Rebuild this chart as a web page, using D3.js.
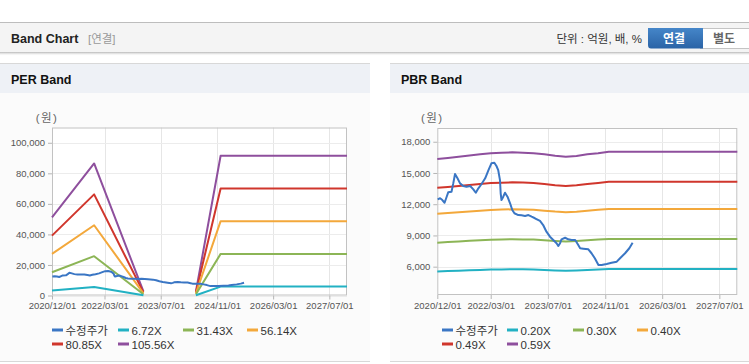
<!DOCTYPE html>
<html><head><meta charset="utf-8">
<script src="https://cdn.jsdelivr.net/npm/d3@7"></script>
<style>
html,body{margin:0;padding:0;background:#fff;}
svg{display:block;font-family:"Liberation Sans","Noto Sans CJK KR",sans-serif;}
</style></head><body>
<svg id="c" width="749" height="364"></svg>
<script>
// ---------- data ----------
const xTickDates = ["2020-12-01","2022-03-01","2023-07-01","2024-11-01","2026-03-01","2027-07-01"];
const xDomain = ["2020-12-01","2027-12-01"];
const perTicks = [0,20000,40000,60000,80000,100000];
const perDomain = [0,110000];
const pbrTicks = [6000,9000,12000,15000,18000];
const pbrDomain = [3280,19320];

const priceDates = ["2020-12-04","2020-12-25","2021-01-13","2021-02-01","2021-02-19","2021-03-04","2021-04-01","2021-04-16","2021-05-01","2021-05-22","2021-06-13","2021-07-10","2021-08-07","2021-09-07","2021-10-04","2021-10-25","2021-11-16","2021-12-13","2022-01-13","2022-02-10","2022-03-07","2022-04-01","2022-04-19","2022-05-04","2022-05-19","2022-05-25","2022-06-01","2022-06-16","2022-07-01","2022-07-22","2022-08-13","2022-09-01","2022-09-19","2022-10-22","2022-11-19","2022-12-19","2023-01-16","2023-02-13","2023-03-13","2023-04-25","2023-05-22","2023-06-19","2023-07-19","2023-08-16","2023-09-13","2023-09-28","2023-10-13","2023-10-25","2023-11-25","2023-12-22","2024-01-19","2024-02-19","2024-03-16","2024-04-01","2024-04-28","2024-06-10","2024-07-07","2024-08-04","2024-09-04","2024-10-01","2024-11-13","2024-12-25","2025-02-07","2025-03-07","2025-04-19","2025-05-25","2025-06-22"];
const priceValues = [12470,12570,12400,12140,12720,13140,13200,14000,14900,14490,14000,13750,13680,13750,13430,13100,13530,13940,14490,15280,15930,15980,15670,15280,14320,13050,12400,12720,13100,12720,12090,11440,11130,10960,10930,10870,10960,10800,10650,10390,10000,9360,8880,8560,8250,7990,8250,8630,8780,8630,8560,8560,8080,7770,7730,7670,7290,6810,6160,6160,6260,6380,6480,6810,7290,7770,8300];

const perDates = ["2020-12-01","2021-12-01","2023-02-01","2023-10-01","2024-05-01","2024-12-01","2027-12-01"];
const per672  = [3260, 5500, 170, null, 170, 5830, 5830];
const per3143 = [15240,25740,790, null, 790, 27250,27250];
const per5614 = [27230,45980,1400,null,1400,48670,48670];
const per8085 = [39210,66220,2020,null,2020,70100,70100];
const per10556= [51200,86450,2640,null,2640,91520,91520];

const pbrDates = ["2020-12-01","2021-03-01","2021-06-01","2021-09-01","2021-12-01","2022-03-01","2022-06-01","2022-09-01","2022-12-01","2023-03-01","2023-06-01","2023-09-01","2023-12-01","2024-03-01","2024-06-01","2024-09-01","2024-12-01","2027-12-01"];
const pbr020 = [5540,5580,5610,5650,5690,5730,5740,5760,5750,5730,5690,5640,5610,5640,5690,5730,5780,5780];
const pbr030 = [8310,8360,8420,8480,8540,8590,8620,8630,8620,8600,8540,8470,8420,8460,8540,8600,8660,8660];
const pbr040 = [11080,11150,11230,11300,11380,11450,11490,11510,11490,11460,11380,11290,11230,11280,11380,11460,11550,11550];
const pbr049 = [13570,13660,13750,13850,13940,14030,14070,14100,14080,14040,13940,13830,13750,13820,13940,14040,14150,14150];
const pbr059 = [16340,16450,16560,16670,16790,16890,16940,16980,16950,16900,16790,16650,16560,16640,16790,16900,17040,17040];

const perLegend = ["수정주가","6.72X","31.43X","56.14X","80.85X","105.56X"];
const pbrLegend = ["수정주가","0.20X","0.30X","0.40X","0.49X","0.59X"];
const colors = ["#3a76c4","#22b1c3","#8cb556","#f3a83b","#d0362c","#8e4f9d"];

// ---------- drawing ----------
const parse = d3.timeParse("%Y-%m-%d");
const svg = d3.select("#c");

// top header bar
svg.append("rect").attr("x",0).attr("y",22).attr("width",749).attr("height",31).attr("fill","#f4f4f4");
svg.append("line").attr("x1",0).attr("x2",749).attr("y1",22.5).attr("y2",22.5).attr("stroke","#bdbdbd");
const defs = svg.append("defs");
const g1 = defs.append("linearGradient").attr("id","shadow").attr("x1",0).attr("x2",0).attr("y1",0).attr("y2",1);
g1.append("stop").attr("offset","0").attr("stop-color","#b8b8b8");
g1.append("stop").attr("offset","1").attr("stop-color","#ffffff").attr("stop-opacity",0);
svg.append("rect").attr("x",0).attr("y",52).attr("width",749).attr("height",4).attr("fill","url(#shadow)");
svg.append("text").attr("x",11).attr("y",43).attr("font-size",12.5).attr("font-weight","bold").attr("fill","#222").text("Band Chart");
svg.append("text").attr("x",88).attr("y",43).attr("font-size",11.5).attr("fill","#999").text("[연결]");
svg.append("text").attr("x",642).attr("y",43).attr("text-anchor","end").attr("font-size",11.5).attr("fill","#333").text("단위 : 억원, 배, %");
const g2 = defs.append("linearGradient").attr("id","btn").attr("x1",0).attr("x2",0).attr("y1",0).attr("y2",1);
g2.append("stop").attr("offset","0").attr("stop-color","#4586c9");
g2.append("stop").attr("offset","1").attr("stop-color","#2a63a6");
svg.append("rect").attr("x",700.5).attr("y",28.5).attr("width",52).attr("height",20).attr("fill","#fff").attr("stroke","#c4c4c4");
svg.append("path").attr("d","M703,28 H648 Q648,28 648,31 V45 Q648,48.5 651,48.5 H703 Z").attr("fill","url(#btn)");
svg.append("text").attr("x",674).attr("y",43).attr("text-anchor","middle").attr("font-size",12).attr("font-weight","bold").attr("fill","#fff").text("연결");
svg.append("text").attr("x",724).attr("y",43).attr("text-anchor","middle").attr("font-size",12).attr("font-weight","bold").attr("fill","#666").text("별도");

function panel(px, pw, title) {
  svg.append("rect").attr("x",px).attr("y",64).attr("width",pw).attr("height",297).attr("fill","#fbfbfb");
  svg.append("rect").attr("x",px).attr("y",64).attr("width",pw).attr("height",29).attr("fill","#eef1f6");
  svg.append("line").attr("x1",px).attr("x2",px+pw).attr("y1",63.5).attr("y2",63.5).attr("stroke","#d8d8d8");
  svg.append("line").attr("x1",px).attr("x2",px+pw).attr("y1",361.5).attr("y2",361.5).attr("stroke","#d8d8d8");
  svg.append("text").attr("x",px+11).attr("y",84).attr("font-size",12.5).attr("font-weight","bold").attr("fill","#111").text(title);
}
panel(0,370,"PER Band");
panel(390,359,"PBR Band");

function chart(o) {
  const x = d3.scaleTime().domain(xDomain.map(parse)).range([o.x0, o.x1]);
  const y = d3.scaleLinear().domain(o.domain).range([o.yb, o.yt]);
  const g = svg.append("g");
  g.append("rect").attr("x",o.x0).attr("y",o.yt).attr("width",o.x1-o.x0).attr("height",o.yb-o.yt).attr("fill","#fff");
  // grid
  g.selectAll(".vg").data(xTickDates.slice(1).map(parse)).enter().append("line")
    .attr("x1",d=>Math.round(x(d))+0.5).attr("x2",d=>Math.round(x(d))+0.5).attr("y1",o.yt).attr("y2",o.yb).attr("stroke","#e6e6e6");
  g.selectAll(".hg").data(o.ticks).enter().append("line")
    .attr("x1",o.x0).attr("x2",o.x1).attr("y1",d=>Math.round(y(d))+0.5).attr("y2",d=>Math.round(y(d))+0.5).attr("stroke","#ececec");
  // axes
  const ax = g.append("g").attr("transform",`translate(0,${o.yb})`)
    .call(d3.axisBottom(x).tickValues(xTickDates.map(parse)).tickFormat(d3.timeFormat("%Y/%m/%d")).tickSize(4).tickSizeOuter(0));
  const ay = g.append("g").attr("transform",`translate(${o.x0},0)`)
    .call(d3.axisLeft(y).tickValues(o.ticks).tickFormat(d3.format(",")).tickSize(4).tickSizeOuter(0));
  [ax,ay].forEach(a=>{
    a.select(".domain").remove();
    a.selectAll("line").attr("stroke","#b5b5b5");
    a.selectAll("text").attr("fill","#555").attr("font-size",9.5).attr("font-family","Liberation Sans, sans-serif");
  });
  // border
  g.append("rect").attr("x",o.x0+0.5).attr("y",o.yt+0.5).attr("width",o.x1-o.x0-1).attr("height",o.yb-o.yt-1)
    .attr("fill","none").attr("stroke","#c2c2c2");
  g.append("text").attr("x",o.x0-5).attr("y",122).attr("text-anchor","middle").attr("font-size",11.5).attr("letter-spacing",1.5).attr("fill","#666").text("(원)");
  // lines
  const line = d3.line().defined(d=>d[1]!=null).x(d=>x(d[0])).y(d=>y(d[1]));
  const plot = g.append("g");
  o.series.forEach((s,i)=>{
    plot.append("path").datum(s.dates.map((d,k)=>[parse(d), s.values[k]]))
      .attr("d",line).attr("fill","none").attr("stroke",s.color).attr("stroke-width",2).attr("stroke-linejoin","round");
  });
  // legend
  const lx = o.legendX;
  o.legend.forEach((t,i)=>{
    const row = i<4?0:1, col = i<4?i:i-4;
    const xx = lx[col], yy = row===0?330:344;
    g.append("line").attr("x1",xx).attr("x2",xx+11).attr("y1",yy).attr("y2",yy).attr("stroke",colors[i]).attr("stroke-width",3);
    g.append("text").attr("x",xx+13.5).attr("y",yy+4.5).attr("font-size",11.5).attr("fill","#333").text(t);
  });
}

chart({
  x0:52, x1:347, yt:127.5, yb:295.5, domain:perDomain, ticks:perTicks,
  legend:perLegend, legendX:[52,118,183,247],
  series:[
    {dates:perDates, values:per10556, color:colors[5]},
    {dates:perDates, values:per8085, color:colors[4]},
    {dates:perDates, values:per5614, color:colors[3]},
    {dates:perDates, values:per3143, color:colors[2]},
    {dates:perDates, values:per672, color:colors[1]},
    {dates:priceDates, values:priceValues, color:colors[0]}
  ]
});
chart({
  x0:437.3, x1:737.3, yt:128, yb:295, domain:pbrDomain, ticks:pbrTicks,
  legend:pbrLegend, legendX:[442,507,573,637],
  series:[
    {dates:pbrDates, values:pbr059, color:colors[5]},
    {dates:pbrDates, values:pbr049, color:colors[4]},
    {dates:pbrDates, values:pbr040, color:colors[3]},
    {dates:pbrDates, values:pbr030, color:colors[2]},
    {dates:pbrDates, values:pbr020, color:colors[1]},
    {dates:priceDates, values:priceValues, color:colors[0]}
  ]
});
</script></body></html>
